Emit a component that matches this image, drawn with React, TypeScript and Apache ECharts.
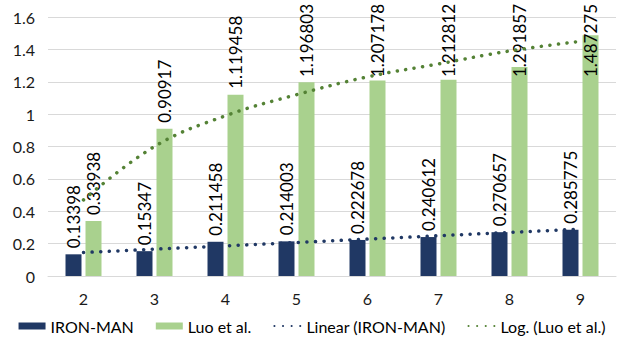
import React, { useEffect, useRef } from "react";
import * as echarts from "echarts";

const categories = ["2", "3", "4", "5", "6", "7", "8", "9"];
const ironMan = [0.13398, 0.15347, 0.211458, 0.214003, 0.222678, 0.240612, 0.270657, 0.285775];
const luo = [0.33938, 0.90917, 1.119458, 1.196803, 1.207178, 1.212812, 1.291857, 1.487275];
// trendline values at each category
const linearIronMan = [0.145, 0.166, 0.186, 0.207, 0.228, 0.249, 0.269, 0.29];
const logLuo = [0.47, 0.8, 0.99, 1.12, 1.23, 1.31, 1.39, 1.45];
const yTicks = { min: 0, max: 1.6, interval: 0.2 };

const FONT = "Lato";
const NAVY = "#203864";
const LIGHT_GREEN = "#a9d18e";
const DARK_GREEN = "#548235";
const TEXT = "#1a1a1a";

export default function App() {
  const ref = useRef<HTMLDivElement>(null);
  useEffect(() => {
    if (!ref.current) return;
    const chart = echarts.init(ref.current, null, { renderer: "svg" });
    const barLabel = {
      show: true,
      position: "top",
      rotate: 90,
      align: "left",
      verticalAlign: "middle",
      distance: 6,
      fontSize: 17,
      fontFamily: FONT,
      color: "#000",
    };
    // Tall labels stay inside the picture: their lower end is never above y = 77
    const LABEL_BOTTOM_LIMIT = 77;
    const placeLabel = (params: any) => {
      const r = params.rect;
      const top = Math.min(r.y, r.y + r.height);
      return {
        x: r.x + r.width / 2,
        y: Math.max(top - 6, LABEL_BOTTOM_LIMIT),
        align: "left",
        verticalAlign: "middle",
        rotate: 90,
      };
    };
    const dotted = (color: string) => ({
      color,
      width: 3.5,
      type: [0.1, 8.5],
      cap: "round",
    });
    chart.setOption({
      animation: false,
      textStyle: { fontFamily: FONT },
      grid: { left: 48, right: 8, top: 17, bottom: 64, containLabel: false },
      xAxis: {
        type: "category",
        data: categories,
        axisTick: { show: false },
        axisLine: { lineStyle: { color: "#d9d9d9", width: 1 } },
        axisLabel: { color: TEXT, fontSize: 16, fontFamily: FONT, margin: 14 },
      },
      yAxis: {
        type: "value",
        min: yTicks.min,
        max: yTicks.max,
        interval: yTicks.interval,
        axisLine: { show: false },
        axisTick: { show: false },
        splitLine: { lineStyle: { color: "#d9d9d9", width: 1 } },
        axisLabel: { color: TEXT, fontSize: 16, fontFamily: FONT, margin: 13 },
      },
      legend: {
        bottom: 1,
        left: "center",
        itemWidth: 27,
        itemHeight: 7,
        itemGap: 22,
        textStyle: { color: "#000", fontSize: 16, fontFamily: FONT },
        data: [
          { name: "IRON-MAN", icon: "rect" },
          { name: "Luo et al.", icon: "rect" },
          { name: "Linear (IRON-MAN)", itemStyle: { opacity: 0 } },
          { name: "Log. (Luo et al.)", itemStyle: { opacity: 0 } },
        ],
      },
      series: [
        {
          name: "IRON-MAN",
          type: "bar",
          data: ironMan,
          barWidth: 16,
          barGap: "25%",
          itemStyle: { color: NAVY },
          label: barLabel,
        },
        {
          name: "Luo et al.",
          type: "bar",
          data: luo,
          barWidth: 16,
          barGap: "25%",
          itemStyle: { color: LIGHT_GREEN },
          label: barLabel,
          labelLayout: placeLabel,
        },
        {
          name: "Linear (IRON-MAN)",
          type: "line",
          data: linearIronMan,
          symbol: "none",
          z: 5,
          lineStyle: dotted(NAVY),
        },
        {
          name: "Log. (Luo et al.)",
          type: "line",
          data: logLuo,
          symbol: "none",
          smooth: 0.4,
          z: 5,
          lineStyle: dotted(DARK_GREEN),
        },
      ],
    });
    return () => chart.dispose();
  }, []);
  return (
    <div
      ref={ref}
      style={{ position: "fixed", left: 0, top: 0, width: 624, height: 340, background: "#fff" }}
    />
  );
}
